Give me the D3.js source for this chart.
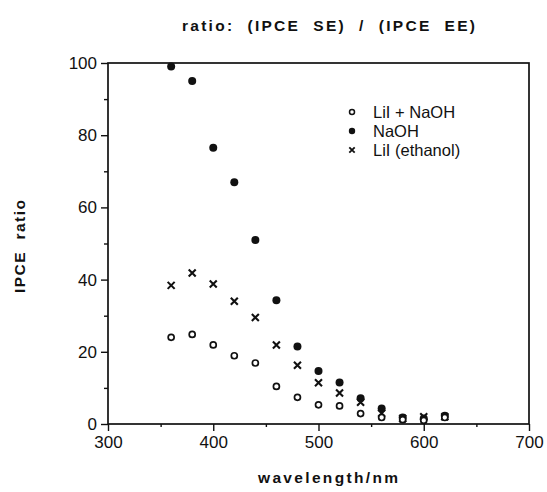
<!DOCTYPE html>
<html lang="en">
  <head>
    <meta charset="UTF-8" />
    <title>IPCE ratio</title>
    <style>
      body { margin: 0; background: #fff; }
      text { font-family: "Liberation Sans", Arial, sans-serif; fill: #111; }
      .lbl { font-weight: bold; font-size: 15.5px; white-space: pre; }
    </style>
  </head>
  <body>
    <div class="chart"></div>
    <script src="https://cdn.jsdelivr.net/npm/d3@7"></script>
    <script>
    var wavelengths = [360, 380, 400, 420, 440, 460, 480, 500, 520, 540, 560, 580, 600, 620];
    var naoh        = [99, 95, 76.5, 67, 51, 34.3, 21.5, 14.7, 11.5, 7.1, 4.3, 1.8, 1.5, 2.3];
    var liiEthanol  = [38.4, 41.8, 38.8, 34, 29.5, 21.9, 16.3, 11.4, 8.6, 6, 3, 1.5, 2, 2];
    var liiNaoh     = [24, 24.8, 21.9, 18.9, 16.9, 10.4, 7.4, 5.3, 5, 2.9, 1.8, 1.2, 1, 1.8];

    var xTicks = [300, 400, 500, 600, 700];
    var yTicks = [0, 20, 40, 60, 80, 100];
    var legendLabels = ["LiI + NaOH", "NaOH", "LiI (ethanol)"];

    var w = 547, h = 492;
    var svg = d3.select(".chart").append("svg")
                .attr("width", w)
                .attr("height", h);

    var x = d3.scaleLinear().domain([300, 700]).range([108, 529]);
    var y = d3.scaleLinear().domain([0, 100]).range([424, 63]);

    // frame
    svg.append("rect")
       .attr("x", x(300)).attr("y", y(100))
       .attr("width", x(700) - x(300)).attr("height", y(0) - y(100))
       .attr("fill", "none").attr("stroke", "#111").attr("stroke-width", 1.7);

    // axes
    svg.append("g")
       .attr("transform", "translate(0," + y(0) + ")")
       .call(d3.axisBottom(x).tickValues(xTicks).tickSize(7).tickPadding(5));
    svg.append("g")
       .attr("transform", "translate(0," + y(0) + ")")
       .call(d3.axisBottom(x).tickValues([350, 450, 550, 650]).tickSize(3).tickFormat(""));

    svg.append("g")
       .attr("transform", "translate(" + x(300) + ",0)")
       .call(d3.axisLeft(y).tickValues(yTicks).tickSize(7).tickPadding(4));
    svg.append("g")
       .attr("transform", "translate(" + x(300) + ",0)")
       .call(d3.axisLeft(y).tickValues([10, 30, 50, 70, 90]).tickSize(4).tickFormat(""));

    svg.selectAll(".domain").remove();
    svg.selectAll(".tick line").attr("stroke", "#111").attr("stroke-width", 1.4);
    svg.selectAll(".tick text")
       .style("font-family", "'Liberation Sans', Arial, sans-serif")
       .style("font-size", "17px")
       .attr("fill", "#111");

    // labels
    svg.append("text").attr("class", "lbl")
       .attr("x", 182).attr("y", 31)
       .attr("textLength", 293).attr("lengthAdjust", "spacing")
       .text("ratio:  (IPCE  SE)  /  (IPCE  EE)");

    svg.append("text").attr("class", "lbl")
       .attr("x", 258).attr("y", 483)
       .attr("textLength", 140).attr("lengthAdjust", "spacing")
       .text("wavelength/nm");

    svg.append("text").attr("class", "lbl")
       .attr("transform", "translate(25,293) rotate(-90)")
       .attr("textLength", 93).attr("lengthAdjust", "spacing")
       .text("IPCE  ratio");

    // markers
    function cross(g, cx, cy, s, sw) {
      g.append("path")
       .attr("d", "M" + (cx - s) + "," + (cy - s) + "L" + (cx + s) + "," + (cy + s) +
                  "M" + (cx - s) + "," + (cy + s) + "L" + (cx + s) + "," + (cy - s))
       .attr("stroke", "#111").attr("stroke-width", sw).attr("fill", "none");
    }

    var pts = svg.append("g");

    liiEthanol.forEach(function(v, i) {
      cross(pts, x(wavelengths[i]), y(v), 3.5, 2.1);
    });

    pts.selectAll("circle.naoh")
       .data(naoh)
       .enter().append("circle")
       .attr("class", "naoh")
       .attr("cx", function(d, i) { return x(wavelengths[i]); })
       .attr("cy", function(d) { return y(d); })
       .attr("r", 4)
       .attr("fill", "#111");

    pts.selectAll("circle.lii")
       .data(liiNaoh)
       .enter().append("circle")
       .attr("class", "lii")
       .attr("cx", function(d, i) { return x(wavelengths[i]); })
       .attr("cy", function(d) { return y(d); })
       .attr("r", 3)
       .attr("fill", "#fff")
       .attr("stroke", "#111")
       .attr("stroke-width", 1.7);

    // legend
    var lg = svg.append("g");
    var lgx = 352, lgy = 112, lgh = 19;

    lg.append("circle").attr("cx", lgx).attr("cy", lgy).attr("r", 2.5)
      .attr("fill", "#fff").attr("stroke", "#111").attr("stroke-width", 1.5);
    lg.append("circle").attr("cx", lgx).attr("cy", lgy + lgh).attr("r", 3.2)
      .attr("fill", "#111");
    cross(lg, lgx, lgy + 2 * lgh, 2.7, 1.8);

    lg.selectAll("text")
      .data(legendLabels)
      .enter().append("text")
      .attr("x", 373)
      .attr("y", function(d, i) { return lgy + 6 + i * lgh; })
      .style("font-size", "16.5px")
      .text(function(d) { return d; });
    </script>
  </body>
</html>
